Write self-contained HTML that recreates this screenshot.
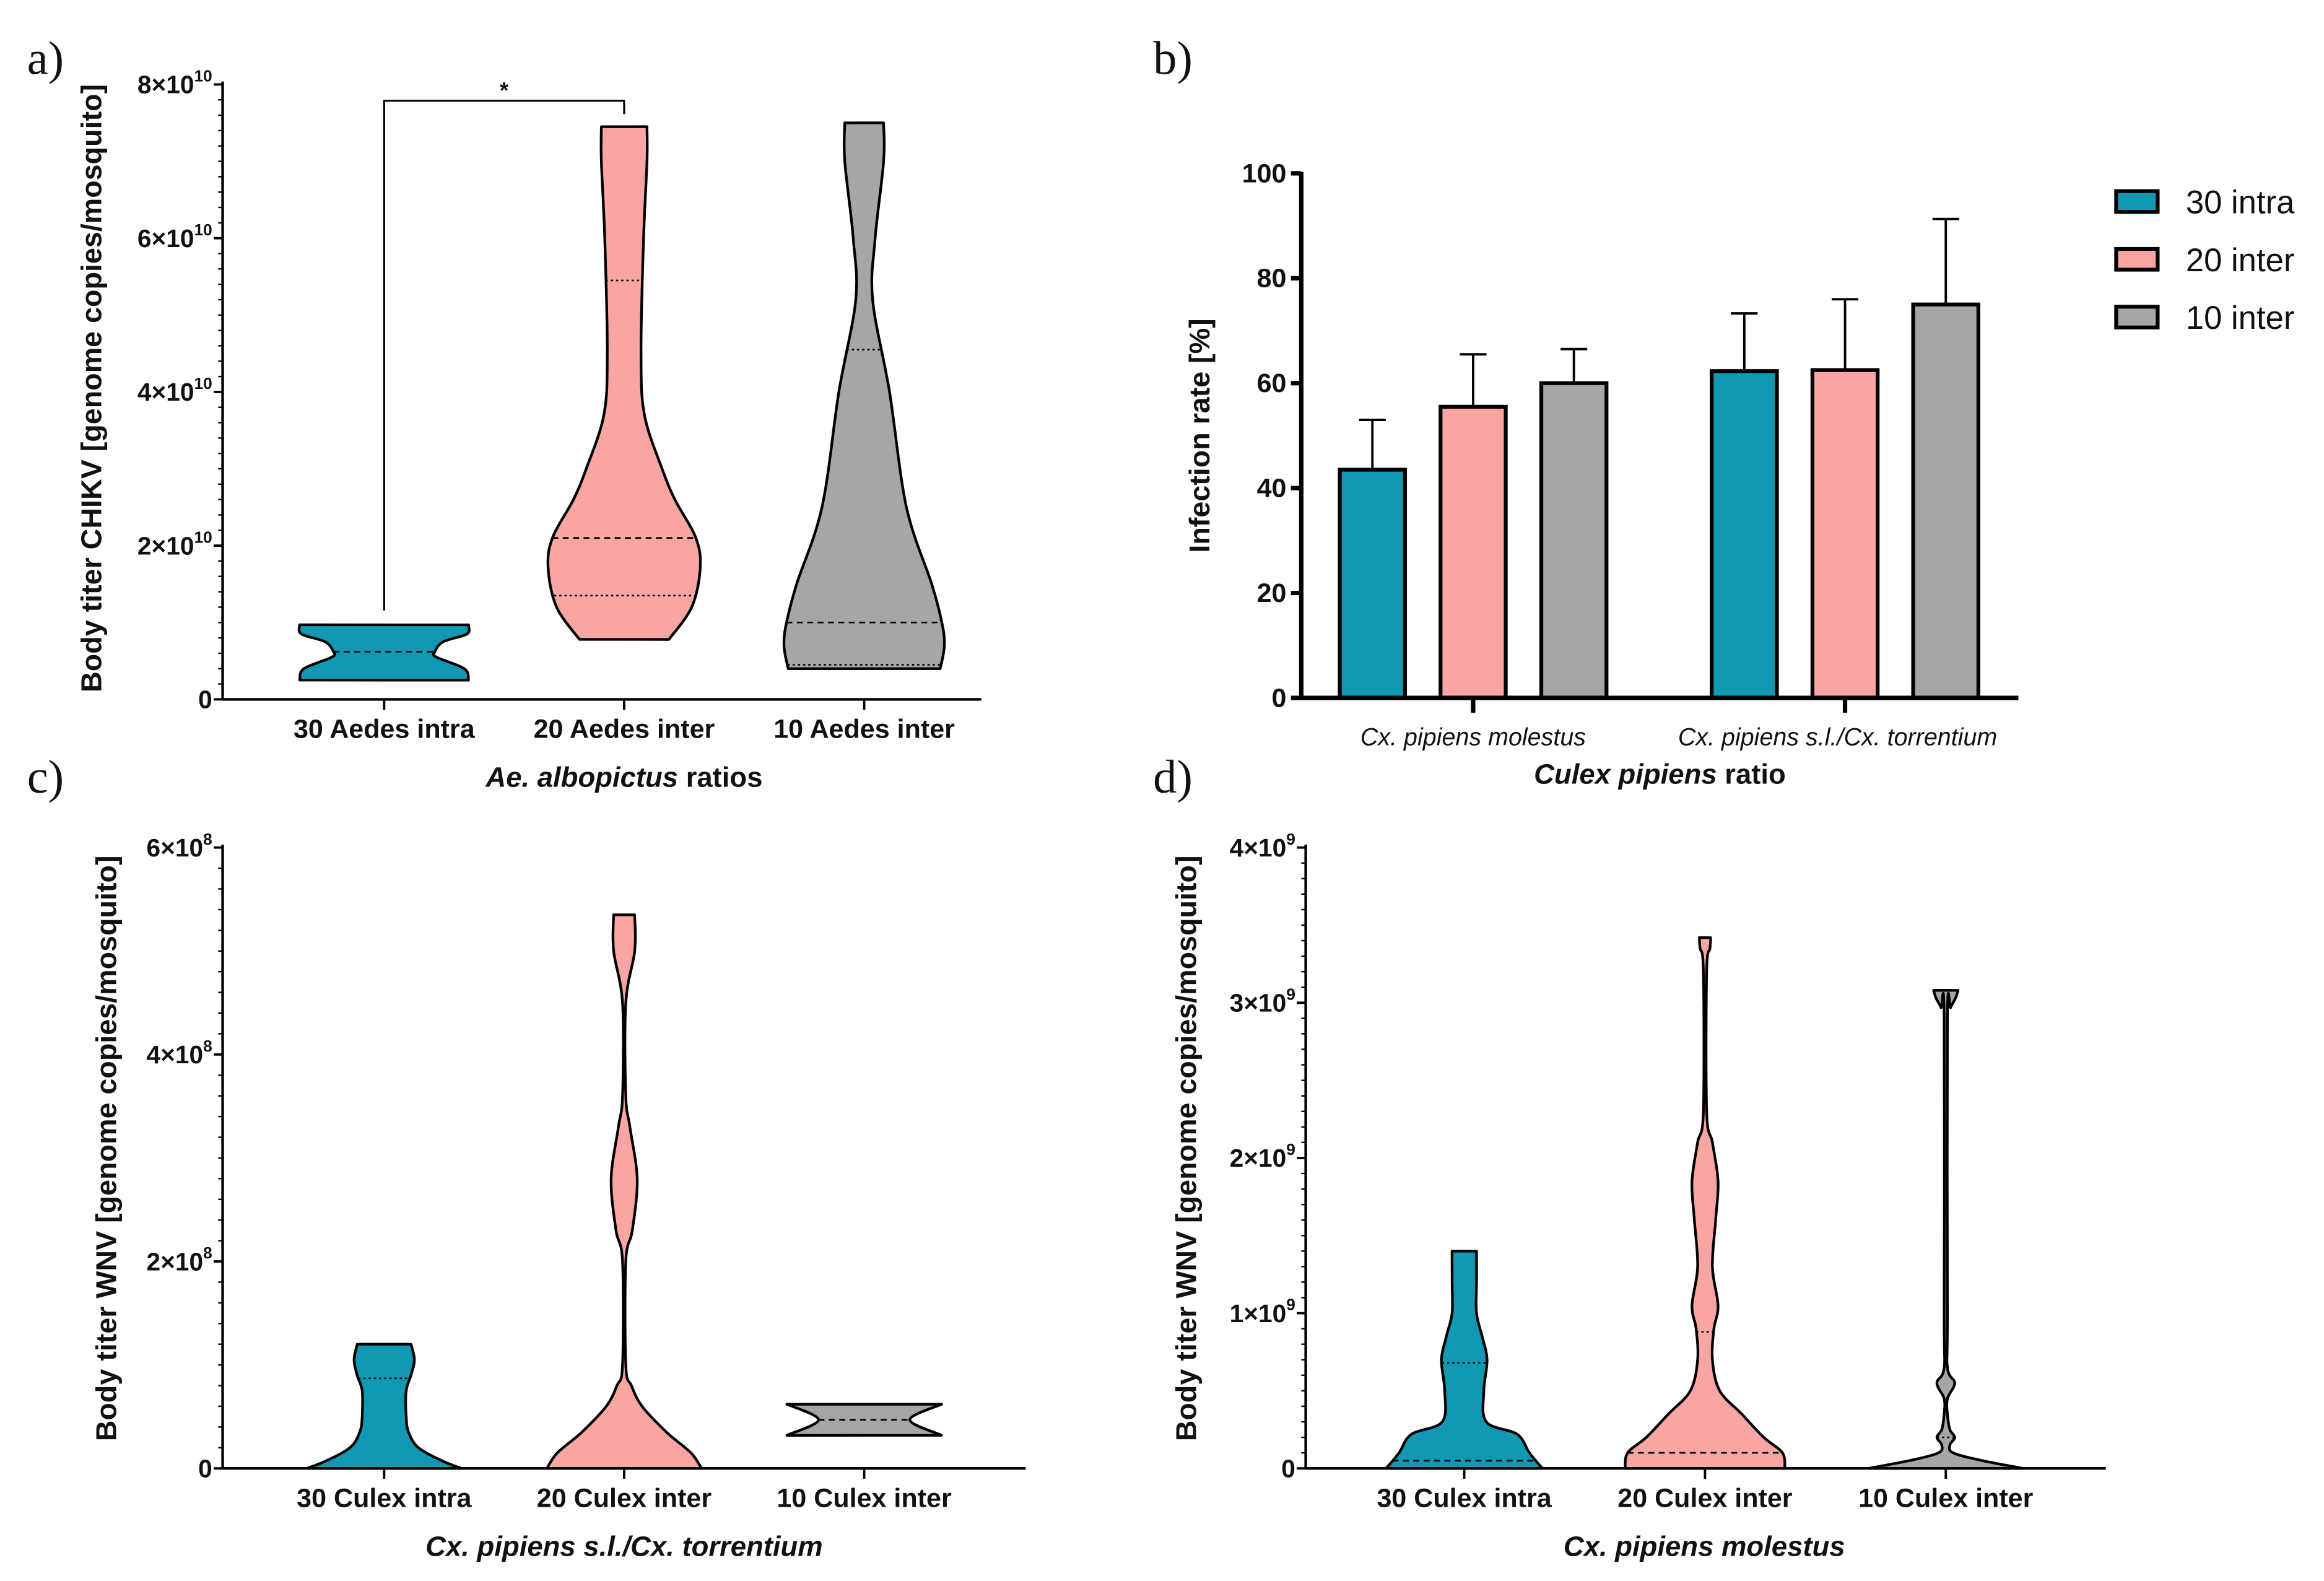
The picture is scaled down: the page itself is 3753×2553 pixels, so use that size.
<!DOCTYPE html>
<html><head><meta charset="utf-8"><style>
html,body{margin:0;padding:0;background:#fff}
svg{display:block}
text{font-family:"Liberation Sans",sans-serif}
</style></head><body>
<svg id="fig" xmlns="http://www.w3.org/2000/svg" width="3753" height="2553" viewBox="0 0 1568 1067">
<rect width="1568" height="1067" fill="#fff"/>
</svg>
<script>
// ---------- DATA ----------
const teal='#1198b2', pink='#f9a5a3', gray='#a6a6a6';
// Panel a: CHIKV violins (values in 1e10; density relative 0..1)
const aCats=['30 Aedes intra','20 Aedes inter','10 Aedes inter'];
const aTicks=[0,2,4,6,8];
const aV1=[[0.25,1.0],[0.4,0.95],[0.55,0.62],[0.62,0.6],[0.75,0.7],[0.85,0.98],[0.97,1.0]];
const aV2=[[0.78,0.53],[1.2,0.8],[1.7,0.9],[2.1,0.85],[2.6,0.6],[3.0,0.45],[3.7,0.24],[4.5,0.2],[6.0,0.23],[7.0,0.27],[7.45,0.27]];
const aV3=[[0.4,0.9],[0.7,0.95],[1.0,0.92],[1.5,0.8],[2.5,0.5],[4.0,0.3],[5.2,0.1],[6.0,0.13],[7.0,0.23],[7.5,0.23]];
const aMed=[0.62,2.1,1.0], aQ1=[0.25,1.35,0.45], aQ3=[0.97,5.45,4.55];
// Panel b: infection rates
const bGroups=['Cx. pipiens molestus','Cx. pipiens s.l./Cx. torrentium'];
const bSeries=['30 intra','20 inter','10 inter'];
const bMol=[43.5,55.5,60], bTor=[62.3,62.5,75];
const bMolErr=[53,65.5,66.5], bTorErr=[73.3,76,91.3];
const bTicks=[0,20,40,60,80,100];
// Panel c: WNV Cx. pipiens s.l. (values in 1e8)
const cCats=['30 Culex intra','20 Culex inter','10 Culex inter'];
const cTicks=[0,2,4,6];
const cV1=[[0,0.95],[0.07,0.72],[0.2,0.42],[0.35,0.3],[0.5,0.27],[0.75,0.27],[0.9,0.33],[1.05,0.37],[1.2,0.33]];
const cV2=[[0,0.95],[0.15,0.82],[0.35,0.52],[0.6,0.22],[0.8,0.09],[1.0,0.02],[2.0,0.02],[2.3,0.1],[2.8,0.16],[3.3,0.07],[3.6,0.02],[4.5,0.02],[5.0,0.13],[5.35,0.13]];
const cV3=[[0.32,0.95],[0.47,0.56],[0.62,0.95]];
const cMed=[null,null,0.47], cDot=[0.87,null,null];
// Panel d: WNV Cx. pipiens molestus (values in 1e9)
const dCats=['30 Culex intra','20 Culex inter','10 Culex inter'];
const dTicks=[0,1,2,3,4];
const dV1=[[0,0.96],[0.1,0.8],[0.22,0.65],[0.3,0.27],[0.5,0.24],[0.7,0.28],[0.85,0.22],[1.0,0.15],[1.2,0.15],[1.4,0.15]];
const dV2=[[0,0.98],[0.1,0.95],[0.2,0.72],[0.35,0.45],[0.5,0.18],[0.7,0.09],[0.9,0.11],[1.05,0.16],[1.3,0.09],[1.6,0.13],[1.85,0.16],[2.1,0.09],[2.3,0.02],[3.2,0.02],[3.35,0.06],[3.42,0.07]];
const dV3=[[0,0.95],[0.05,0.45],[0.1,0.09],[0.15,0.05],[0.2,0.11],[0.25,0.05],[0.35,0.02],[0.45,0.02],[0.55,0.11],[0.65,0.02],[1.0,0.02],[2.9,0.02],[2.97,0.06],[3.03,0.12],[3.08,0.15]];
const dMed=[0.05,0.1,null], dDot=[0.68,0.88,0.2];

// ---------- HELPERS ----------
const svg=document.getElementById('fig');
const NS='http://www.w3.org/2000/svg';
function mk(tag,attrs,parent){const e=document.createElementNS(NS,tag);for(const k in attrs)e.setAttribute(k,attrs[k]);(parent||svg).appendChild(e);return e;}
function txt(s,x,y,size,opts,parent){opts=opts||{};const t=mk('text',{x:x,y:y,'font-size':size,'text-anchor':opts.anchor||'middle','font-weight':opts.weight||'normal','font-style':opts.style||'normal',fill:'#111'},parent);if(opts.rot)t.setAttribute('transform','rotate(-90 '+x+' '+y+')');if(opts.family)t.setAttribute('style','font-family:'+opts.family);t.textContent=s;return t;}
function smoothPath(pts){let d='';for(let i=0;i<pts.length-1;i++){const p0=pts[Math.max(0,i-1)],p1=pts[i],p2=pts[i+1],p3=pts[Math.min(pts.length-1,i+2)];const c1x=p1[0]+(p2[0]-p0[0])/6,c1y=p1[1]+(p2[1]-p0[1])/6,c2x=p2[0]-(p3[0]-p1[0])/6,c2y=p2[1]-(p3[1]-p1[1])/6;d+=' C'+c1x.toFixed(1)+','+c1y.toFixed(1)+' '+c2x.toFixed(1)+','+c2y.toFixed(1)+' '+p2[0].toFixed(1)+','+p2[1].toFixed(1);}return d;}
function violin(g,prof,cx,ys,maxW,color){
  const right=prof.map(p=>[cx+p[1]*maxW,ys(p[0])]);
  const left=prof.slice().reverse().map(p=>[cx-p[1]*maxW,ys(p[0])]);
  let d='M'+right[0][0]+','+right[0][1]+smoothPath(right)+' L'+left[0][0]+','+left[0][1]+smoothPath(left)+' Z';
  const p=mk('path',{d:d,fill:color,stroke:'#000','stroke-width':1.8,'stroke-linejoin':'round'},g);
  return p;
}
function widthAt(prof,v){for(let i=0;i<prof.length-1;i++){if(v>=prof[i][0]&&v<=prof[i+1][0]){const t=(v-prof[i][0])/(prof[i+1][0]-prof[i][0]);return prof[i][1]+t*(prof[i+1][1]-prof[i][1]);}}return prof[0][1];}
function qline(g,prof,cx,ys,maxW,v,dash,name){if(v==null)return;const w=widthAt(prof,v)*maxW;const l=mk('line',{x1:cx-w,x2:cx+w,y1:ys(v),y2:ys(v),stroke:'#000','stroke-width':1.1,'stroke-dasharray':dash},g);}
function sciLabel(g,x,y,mant,exp){const t=mk('text',{x:x,y:y,'font-size':17,'text-anchor':'end','font-weight':'bold',fill:'#111'},g);
  const a=document.createElementNS(NS,'tspan');a.textContent=mant===0?'0':mant+'×10';t.appendChild(a);
  if(mant!==0){const b=document.createElementNS(NS,'tspan');b.setAttribute('dy','-8');b.setAttribute('font-size','11');b.textContent=exp;t.appendChild(b);}
  }

function violinPanel(cfg){
  const g=mk('g',{});
  const ys=v=>cfg.y0-(v/cfg.ymax)*(cfg.y0-cfg.ytop);
  const xs=i=>cfg.xc0+i*cfg.dx;
  const ax=mk('line',{x1:cfg.ax,x2:cfg.ax,y1:cfg.ytop-2,y2:cfg.y0,stroke:'#000','stroke-width':1.8},g);
  const xa=mk('line',{x1:cfg.ax,x2:cfg.axEnd,y1:cfg.y0,y2:cfg.y0,stroke:'#000','stroke-width':1.8},g);
  const step=cfg.ticks[1]-cfg.ticks[0];
  for(let k=0;k<=(cfg.ticks.length-1)*cfg.minor;k++){const v=k*step/cfg.minor;const y=ys(v);const major=k%cfg.minor===0;
    const t=mk('line',{x1:cfg.ax-(major?6:3),x2:cfg.ax,y1:y,y2:y,stroke:'#000','stroke-width':major?1.6:1},g);}
  cfg.ticks.forEach(v=>sciLabel(g,cfg.ax-7,ys(v)+6,v,cfg.exp));
  cfg.cats.forEach((c,i)=>{const t=mk('line',{x1:xs(i),x2:xs(i),y1:cfg.y0,y2:cfg.y0+7,stroke:'#000','stroke-width':1.6},g);
    const l=txt(c,xs(i),cfg.y0+26,18,{weight:'bold'},g);});
  const colors=[teal,pink,gray];
  cfg.vios.forEach((prof,i)=>{const p=violin(g,prof,xs(i),ys,cfg.maxW,colors[i]);
    qline(g,prof,xs(i),ys,cfg.maxW,cfg.med[i],'4 3','median-line');
    if(cfg.q1)qline(g,prof,xs(i),ys,cfg.maxW,cfg.q1[i],'1.5 2','quartile-line');
    if(cfg.q3)qline(g,prof,xs(i),ys,cfg.maxW,cfg.q3[i],'1.5 2','quartile-line');});
  return {g:g,ys:ys,xs:xs};
}

// ---------- PANEL A ----------
const A=violinPanel({name:'panel-a',ax:150,axEnd:662,y0:472,ytop:57,ymax:8,ticks:aTicks,minor:10,exp:'10',cats:aCats,xc0:259,dx:162,maxW:57,vios:[aV1,aV2,aV3],med:aMed,q1:aQ1,q3:aQ3});
const br=mk('path',{d:'M'+A.xs(0)+',412 V68 H'+A.xs(1)+' V77',fill:'none',stroke:'#000','stroke-width':1.3},A.g);
const st=txt('*',(A.xs(0)+A.xs(1))/2,66,15,{weight:'bold'},A.g);
let yt=txt('Body titer CHIKV [genome copies/mosquito]',68,262,19.5,{weight:'bold',rot:true},A.g);
let xt=mk('text',{x:421,y:531,'font-size':19,'text-anchor':'middle','font-weight':'bold',fill:'#111'},A.g);xt.innerHTML='<tspan font-style="italic">Ae. albopictus</tspan> ratios';
let pl=txt('a)',18,50,32,{anchor:'start',family:'"Liberation Serif",serif'});

// ---------- PANEL B ----------
(function(){
  const g=mk('g',{});
  const ax=878,y0=471,ytop=117;const ys=v=>y0-v/100*(y0-ytop);
  const groupCenters=[994,1245],bw=44,gap=68;
  const vals=[bMol,bTor],errs=[bMolErr,bTorErr],colors=[teal,pink,gray];
  vals.forEach((arr,gi)=>arr.forEach((v,si)=>{const cx=groupCenters[gi]+(si-1)*gap;
    const e=mk('path',{d:'M'+cx+','+ys(v)+' V'+ys(errs[gi][si])+' M'+(cx-9)+','+ys(errs[gi][si])+' H'+(cx+9),stroke:'#000','stroke-width':1.6,fill:'none'},g);
    const r=mk('rect',{x:cx-bw/2,y:ys(v),width:bw,height:y0-ys(v),fill:colors[si],stroke:'#000','stroke-width':2.6},g);}));
  const a1=mk('line',{x1:ax,x2:ax,y1:ytop-1,y2:y0+1,stroke:'#000','stroke-width':3},g);
  const a2=mk('line',{x1:ax-1,x2:1362,y1:y0,y2:y0,stroke:'#000','stroke-width':3},g);
  bTicks.forEach(v=>{const t=mk('line',{x1:ax-7,x2:ax,y1:ys(v),y2:ys(v),stroke:'#000','stroke-width':3},g);
    const l=txt(String(v),ax-10,ys(v)+6,18,{anchor:'end',weight:'bold'},g);});
  bGroups.forEach((s,i)=>{const t=mk('line',{x1:groupCenters[i],x2:groupCenters[i],y1:y0,y2:y0+10,stroke:'#000','stroke-width':3},g);
    const l=txt(s,groupCenters[i]-(i?5:0),y0+32,16.5,{style:'italic'},g);});
  const xt=mk('text',{x:1120,y:529,'font-size':19,'text-anchor':'middle','font-weight':'bold',fill:'#111'},g);xt.innerHTML='<tspan font-style="italic">Culex pipiens</tspan> ratio';
  const yt=txt('Infection rate [%]',816,294,19.5,{weight:'bold',rot:true},g);
  bSeries.forEach((s,i)=>{const y=136+i*39;const r=mk('rect',{x:1428,y:y-7,width:28,height:14,fill:colors[i],stroke:'#000','stroke-width':2.6},g);
    const l=txt(s,1475,y+8,22,{anchor:'start'},g);});
  const pl=txt('b)',778,50,32,{anchor:'start',family:'"Liberation Serif",serif'});
})();

// ---------- PANEL C ----------
const C=violinPanel({name:'panel-c',ax:150,axEnd:692,y0:991,ytop:572,ymax:6,ticks:cTicks,minor:10,exp:'8',cats:cCats,xc0:259,dx:162,maxW:55,vios:[cV1,cV2,cV3],med:cMed,q1:cDot,q3:null});
yt=txt('Body titer WNV [genome copies/mosquito]',78,775,19.5,{weight:'bold',rot:true},C.g);
xt=txt('Cx. pipiens s.l./Cx. torrentium',421,1050,19,{weight:'bold',style:'italic'},C.g);
pl=txt('c)',18,535,32,{anchor:'start',family:'"Liberation Serif",serif'});

// ---------- PANEL D ----------
const D=violinPanel({name:'panel-d',ax:881,axEnd:1421,y0:991,ytop:572,ymax:4,ticks:dTicks,minor:10,exp:'9',cats:dCats,xc0:988,dx:162.5,maxW:55,vios:[dV1,dV2,dV3],med:dMed,q1:dDot,q3:null});
yt=txt('Body titer WNV [genome copies/mosquito]',807,775,19.5,{weight:'bold',rot:true},D.g);
xt=txt('Cx. pipiens molestus',1150,1050,19,{weight:'bold',style:'italic'},D.g);
pl=txt('d)',778,535,32,{anchor:'start',family:'"Liberation Serif",serif'});
</script>
</body></html>
